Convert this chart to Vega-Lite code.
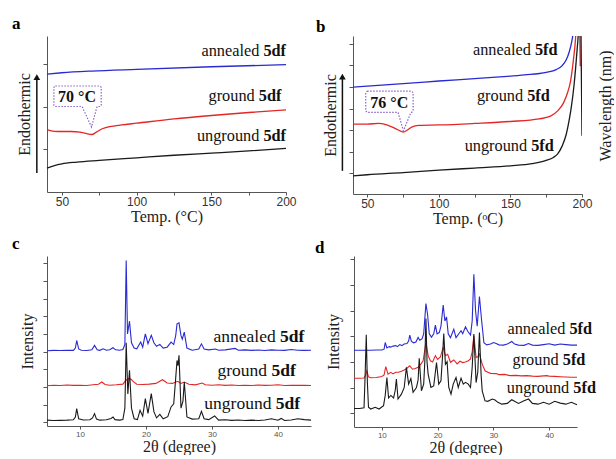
{
"$schema":"https://vega.github.io/schema/vega-lite/v6.json",
"background":"white",
"padding":{"left":12,"top":14,"right":0,"bottom":0},
"spacing":8,
"config":{"view":{"stroke":null},"axis":{"grid":false,"domainColor":"#555","tickColor":"#555","labelFont":"Liberation Sans","titleFont":"Liberation Serif","titleFontWeight":"normal","titleColor":"#222","labelFlush":false,"domainWidth":1,"tickWidth":1}},
"datasets":{
"dscA":[{"s":"A","x":40,"y":2.76},{"s":"A","x":50,"y":2.79},{"s":"A","x":70,"y":2.83},{"s":"A","x":100,"y":2.87},{"s":"A","x":150,"y":2.93},{"s":"A","x":200,"y":2.98},
{"s":"G","x":40,"y":1.46},{"s":"G","x":45,"y":1.42},{"s":"G","x":50,"y":1.415},{"s":"G","x":56,"y":1.415},{"s":"G","x":62,"y":1.4},{"s":"G","x":66,"y":1.37},{"s":"G","x":70,"y":1.345},{"s":"G","x":73,"y":1.4},{"s":"G","x":77,"y":1.48},{"s":"G","x":82,"y":1.53},{"s":"G","x":90,"y":1.57},{"s":"G","x":100,"y":1.61},{"s":"G","x":125,"y":1.71},{"s":"G","x":150,"y":1.79},{"s":"G","x":175,"y":1.86},{"s":"G","x":200,"y":1.92},
{"s":"U","x":40,"y":0.56},{"s":"U","x":45,"y":0.62},{"s":"U","x":50,"y":0.66},{"s":"U","x":60,"y":0.7},{"s":"U","x":75,"y":0.74},{"s":"U","x":100,"y":0.8},{"s":"U","x":125,"y":0.86},{"s":"U","x":150,"y":0.91},{"s":"U","x":175,"y":0.96},{"s":"U","x":200,"y":1.02}],
"dscB":[{"s":"A","x":40,"y":4.94},{"s":"A","x":60,"y":5.03},{"s":"A","x":80,"y":5.12},{"s":"A","x":100,"y":5.22},{"s":"A","x":120,"y":5.31},{"s":"A","x":140,"y":5.4},{"s":"A","x":160,"y":5.5},{"s":"A","x":175,"y":5.62},{"s":"A","x":182,"y":5.75},{"s":"A","x":186,"y":5.92},{"s":"A","x":189,"y":6.2},{"s":"A","x":191,"y":6.55},{"s":"A","x":193,"y":7.1},{"s":"A","x":194.5,"y":7.8},{"s":"A","x":196,"y":9.5},{"s":"A","x":197,"y":11},{"s":"A","x":198.5,"y":10},{"s":"A","x":199.5,"y":9},
{"s":"G","x":40,"y":3.23},{"s":"G","x":50,"y":3.23},{"s":"G","x":58,"y":3.26},{"s":"G","x":63,"y":3.2},{"s":"G","x":67,"y":3.1},{"s":"G","x":71,"y":2.98},{"s":"G","x":75.2,"y":2.86},{"s":"G","x":78,"y":2.96},{"s":"G","x":81,"y":3.09},{"s":"G","x":86,"y":3.17},{"s":"G","x":100,"y":3.19},{"s":"G","x":125,"y":3.26},{"s":"G","x":150,"y":3.35},{"s":"G","x":170,"y":3.47},{"s":"G","x":178,"y":3.6},{"s":"G","x":183,"y":3.84},{"s":"G","x":187,"y":4.2},{"s":"G","x":190,"y":4.7},{"s":"G","x":192,"y":5.22},{"s":"G","x":194,"y":6.2},{"s":"G","x":195.5,"y":7.2},{"s":"G","x":196.5,"y":8.5},{"s":"G","x":197.5,"y":10.5},{"s":"G","x":198.3,"y":8},{"s":"G","x":198.8,"y":5.9},
{"s":"U","x":40,"y":0.84},{"s":"U","x":50,"y":0.89},{"s":"U","x":75,"y":0.99},{"s":"U","x":100,"y":1.1},{"s":"U","x":125,"y":1.2},{"s":"U","x":150,"y":1.3},{"s":"U","x":165,"y":1.4},{"s":"U","x":175,"y":1.55},{"s":"U","x":180,"y":1.69},{"s":"U","x":183,"y":1.85},{"s":"U","x":186,"y":2.2},{"s":"U","x":189,"y":2.76},{"s":"U","x":191,"y":3.4},{"s":"U","x":192.5,"y":4.0},{"s":"U","x":194.5,"y":5.07},{"s":"U","x":196.5,"y":6.6},{"s":"U","x":197.5,"y":7.5},{"s":"U","x":198.8,"y":10},{"s":"U","x":199.5,"y":6},{"s":"U","x":200,"y":2.69}],
"xrdC":[{"s":"A","x":5,"y":4.05},{"s":"A","x":6,"y":4.07},{"s":"A","x":7,"y":4.06},{"s":"A","x":8,"y":4.08},{"s":"A","x":9,"y":4.07},{"s":"A","x":9.3,"y":4.2},{"s":"A","x":9.5,"y":4.63},{"s":"A","x":9.8,"y":4.15},{"s":"A","x":10.2,"y":4.08},{"s":"A","x":11,"y":4.06},{"s":"A","x":11.8,"y":4.1},{"s":"A","x":12.2,"y":4.35},{"s":"A","x":12.6,"y":4.1},{"s":"A","x":13,"y":4.07},{"s":"A","x":13.5,"y":4.16},{"s":"A","x":14,"y":4.08},{"s":"A","x":14.5,"y":4.1},{"s":"A","x":15,"y":4.22},{"s":"A","x":15.4,"y":4.1},{"s":"A","x":16,"y":4.08},{"s":"A","x":16.5,"y":4.12},{"s":"A","x":16.8,"y":4.4},{"s":"A","x":17,"y":9.15},{"s":"A","x":17.2,"y":5},{"s":"A","x":17.5,"y":5.72},{"s":"A","x":17.8,"y":4.5},{"s":"A","x":18.2,"y":4.2},{"s":"A","x":18.6,"y":4.16},{"s":"A","x":19.2,"y":4.54},{"s":"A","x":19.5,"y":4.25},{"s":"A","x":19.9,"y":5},{"s":"A","x":20.3,"y":4.45},{"s":"A","x":20.8,"y":4.92},{"s":"A","x":21.2,"y":4.5},{"s":"A","x":21.6,"y":4.3},{"s":"A","x":22.1,"y":4.41},{"s":"A","x":22.6,"y":4.2},{"s":"A","x":23.2,"y":4.25},{"s":"A","x":23.8,"y":4.54},{"s":"A","x":24.2,"y":4.4},{"s":"A","x":24.5,"y":4.9},{"s":"A","x":24.7,"y":5.57},{"s":"A","x":25,"y":5.63},{"s":"A","x":25.3,"y":4.9},{"s":"A","x":25.5,"y":4.7},{"s":"A","x":25.8,"y":5.1},{"s":"A","x":26.2,"y":4.2},{"s":"A","x":27,"y":4.08},{"s":"A","x":28,"y":4.15},{"s":"A","x":28.4,"y":4.44},{"s":"A","x":28.8,"y":4.15},{"s":"A","x":29.5,"y":4.1},{"s":"A","x":30.5,"y":4.15},{"s":"A","x":31,"y":4.08},{"s":"A","x":32,"y":4.1},{"s":"A","x":33.5,"y":4.18},{"s":"A","x":34,"y":4.08},{"s":"A","x":35,"y":4.1},{"s":"A","x":36,"y":4.07},{"s":"A","x":37,"y":4.09},{"s":"A","x":38,"y":4.06},{"s":"A","x":39,"y":4.1},{"s":"A","x":40,"y":4.08},{"s":"A","x":41,"y":4.07},{"s":"A","x":42,"y":4.12},{"s":"A","x":43,"y":4.08},{"s":"A","x":44,"y":4.07},{"s":"A","x":45,"y":4.08},
{"s":"G","x":5,"y":2.07},{"s":"G","x":6,"y":2.1},{"s":"G","x":7,"y":2.08},{"s":"G","x":8,"y":2.11},{"s":"G","x":9,"y":2.09},{"s":"G","x":10,"y":2.1},{"s":"G","x":11,"y":2.08},{"s":"G","x":12,"y":2.12},{"s":"G","x":12.8,"y":2.15},{"s":"G","x":13.3,"y":2.28},{"s":"G","x":13.8,"y":2.14},{"s":"G","x":14.5,"y":2.1},{"s":"G","x":15.5,"y":2.12},{"s":"G","x":16.5,"y":2.16},{"s":"G","x":16.9,"y":2.35},{"s":"G","x":17.3,"y":2.47},{"s":"G","x":17.7,"y":2.45},{"s":"G","x":18.1,"y":2.3},{"s":"G","x":18.6,"y":2.15},{"s":"G","x":19.5,"y":2.14},{"s":"G","x":20.5,"y":2.16},{"s":"G","x":21.5,"y":2.2},{"s":"G","x":22.5,"y":2.41},{"s":"G","x":23.2,"y":2.22},{"s":"G","x":24,"y":2.2},{"s":"G","x":24.8,"y":2.32},{"s":"G","x":25.3,"y":2.2},{"s":"G","x":25.8,"y":2.28},{"s":"G","x":26.5,"y":2.15},{"s":"G","x":27.5,"y":2.12},{"s":"G","x":28.5,"y":2.22},{"s":"G","x":29,"y":2.12},{"s":"G","x":30,"y":2.1},{"s":"G","x":31,"y":2.12},{"s":"G","x":32,"y":2.09},{"s":"G","x":33,"y":2.11},{"s":"G","x":34,"y":2.08},{"s":"G","x":35,"y":2.1},{"s":"G","x":36,"y":2.08},{"s":"G","x":37,"y":2.11},{"s":"G","x":38,"y":2.09},{"s":"G","x":39,"y":2.1},{"s":"G","x":40,"y":2.12},{"s":"G","x":41,"y":2.08},{"s":"G","x":42,"y":2.1},{"s":"G","x":43,"y":2.09},{"s":"G","x":44,"y":2.1},{"s":"G","x":45,"y":2.08},
{"s":"U","x":5,"y":0.12},{"s":"U","x":6,"y":0.1},{"s":"U","x":7,"y":0.11},{"s":"U","x":8,"y":0.12},{"s":"U","x":9,"y":0.14},{"s":"U","x":9.3,"y":0.3},{"s":"U","x":9.5,"y":0.77},{"s":"U","x":9.8,"y":0.2},{"s":"U","x":10.5,"y":0.13},{"s":"U","x":11.5,"y":0.14},{"s":"U","x":11.9,"y":0.25},{"s":"U","x":12.2,"y":0.49},{"s":"U","x":12.5,"y":0.18},{"s":"U","x":13,"y":0.12},{"s":"U","x":14,"y":0.14},{"s":"U","x":14.7,"y":0.22},{"s":"U","x":15,"y":0.3},{"s":"U","x":15.3,"y":0.15},{"s":"U","x":16,"y":0.12},{"s":"U","x":16.5,"y":0.15},{"s":"U","x":16.8,"y":0.8},{"s":"U","x":17,"y":4.5},{"s":"U","x":17.25,"y":1.6},{"s":"U","x":17.5,"y":2.94},{"s":"U","x":17.8,"y":0.8},{"s":"U","x":18.2,"y":0.2},{"s":"U","x":18.7,"y":0.15},{"s":"U","x":19.1,"y":0.68},{"s":"U","x":19.5,"y":0.35},{"s":"U","x":19.9,"y":1.34},{"s":"U","x":20.3,"y":0.5},{"s":"U","x":20.8,"y":1.62},{"s":"U","x":21.2,"y":0.6},{"s":"U","x":21.6,"y":0.25},{"s":"U","x":22.1,"y":0.45},{"s":"U","x":22.6,"y":0.2},{"s":"U","x":23.3,"y":0.32},{"s":"U","x":23.8,"y":0.87},{"s":"U","x":24.2,"y":1.05},{"s":"U","x":24.5,"y":2.5},{"s":"U","x":24.7,"y":3.5},{"s":"U","x":24.85,"y":3.2},{"s":"U","x":25,"y":3.79},{"s":"U","x":25.3,"y":0.8},{"s":"U","x":25.6,"y":1.2},{"s":"U","x":25.8,"y":2.28},{"s":"U","x":26.2,"y":0.3},{"s":"U","x":27,"y":0.18},{"s":"U","x":28,"y":0.2},{"s":"U","x":28.4,"y":0.62},{"s":"U","x":28.8,"y":0.2},{"s":"U","x":29.5,"y":0.15},{"s":"U","x":30.4,"y":0.36},{"s":"U","x":31,"y":0.12},{"s":"U","x":32,"y":0.14},{"s":"U","x":33,"y":0.11},{"s":"U","x":34,"y":0.13},{"s":"U","x":35,"y":0.1},{"s":"U","x":36,"y":0.12},{"s":"U","x":37,"y":0.1},{"s":"U","x":38,"y":0.13},{"s":"U","x":39,"y":0.2},{"s":"U","x":40,"y":0.12},{"s":"U","x":40.5,"y":0.22},{"s":"U","x":41,"y":0.1},{"s":"U","x":42,"y":0.13},{"s":"U","x":43,"y":0.2},{"s":"U","x":44,"y":0.15},{"s":"U","x":45,"y":0.12}],
"xrdD":[{"s":"A","x":5,"y":2.46},{"s":"A","x":6,"y":2.46},{"s":"A","x":7,"y":2.46},{"s":"A","x":8,"y":2.46},{"s":"A","x":9,"y":2.47},{"s":"A","x":10,"y":2.47},{"s":"A","x":10.4,"y":2.5},{"s":"A","x":10.6,"y":2.76},{"s":"A","x":10.9,"y":2.55},{"s":"A","x":11.3,"y":2.6},{"s":"A","x":11.6,"y":2.58},{"s":"A","x":12,"y":2.62},{"s":"A","x":12.5,"y":2.64},{"s":"A","x":12.8,"y":2.6},{"s":"A","x":13.2,"y":2.68},{"s":"A","x":13.6,"y":2.64},{"s":"A","x":14,"y":2.7},{"s":"A","x":14.5,"y":2.72},{"s":"A","x":14.8,"y":2.82},{"s":"A","x":15,"y":3.05},{"s":"A","x":15.3,"y":2.8},{"s":"A","x":15.7,"y":2.75},{"s":"A","x":16.1,"y":2.78},{"s":"A","x":16.5,"y":2.96},{"s":"A","x":16.8,"y":2.85},{"s":"A","x":17.2,"y":2.9},{"s":"A","x":17.5,"y":3.1},{"s":"A","x":17.9,"y":4.28},{"s":"A","x":18.2,"y":3.85},{"s":"A","x":18.5,"y":3.1},{"s":"A","x":18.9,"y":2.97},{"s":"A","x":19.3,"y":3.1},{"s":"A","x":19.6,"y":3.44},{"s":"A","x":19.9,"y":3.1},{"s":"A","x":20.3,"y":3.15},{"s":"A","x":20.6,"y":3.4},{"s":"A","x":21,"y":4.22},{"s":"A","x":21.3,"y":3.6},{"s":"A","x":21.6,"y":3.76},{"s":"A","x":21.9,"y":3.1},{"s":"A","x":22.3,"y":2.95},{"s":"A","x":22.9,"y":3.28},{"s":"A","x":23.3,"y":2.95},{"s":"A","x":23.8,"y":3.1},{"s":"A","x":24.2,"y":3.22},{"s":"A","x":24.5,"y":3.1},{"s":"A","x":25,"y":3.37},{"s":"A","x":25.4,"y":3.2},{"s":"A","x":25.9,"y":3.05},{"s":"A","x":26.2,"y":3.6},{"s":"A","x":26.5,"y":5.42},{"s":"A","x":26.8,"y":4},{"s":"A","x":27.1,"y":3.4},{"s":"A","x":27.5,"y":4.55},{"s":"A","x":27.9,"y":3.6},{"s":"A","x":28.3,"y":2.75},{"s":"A","x":28.8,"y":2.67},{"s":"A","x":29.5,"y":2.7},{"s":"A","x":30,"y":2.76},{"s":"A","x":30.5,"y":2.72},{"s":"A","x":31,"y":2.67},{"s":"A","x":31.8,"y":2.66},{"s":"A","x":32.5,"y":2.7},{"s":"A","x":33.3,"y":2.8},{"s":"A","x":33.8,"y":2.7},{"s":"A","x":34.5,"y":2.66},{"s":"A","x":35.5,"y":2.65},{"s":"A","x":36.3,"y":2.72},{"s":"A","x":37,"y":2.66},{"s":"A","x":38,"y":2.65},{"s":"A","x":39,"y":2.68},{"s":"A","x":40,"y":2.71},{"s":"A","x":41,"y":2.66},{"s":"A","x":42,"y":2.7},{"s":"A","x":43,"y":2.68},{"s":"A","x":44,"y":2.66},{"s":"A","x":45,"y":2.66},
{"s":"G","x":5,"y":1.37},{"s":"G","x":6,"y":1.37},{"s":"G","x":6.8,"y":1.38},{"s":"G","x":7.1,"y":1.5},{"s":"G","x":7.3,"y":1.66},{"s":"G","x":7.6,"y":1.42},{"s":"G","x":8,"y":1.39},{"s":"G","x":9,"y":1.4},{"s":"G","x":10,"y":1.44},{"s":"G","x":10.4,"y":1.5},{"s":"G","x":10.7,"y":1.82},{"s":"G","x":11.1,"y":1.53},{"s":"G","x":11.6,"y":1.6},{"s":"G","x":12,"y":1.54},{"s":"G","x":12.5,"y":1.6},{"s":"G","x":13,"y":1.6},{"s":"G","x":13.5,"y":1.64},{"s":"G","x":14,"y":1.69},{"s":"G","x":14.5,"y":1.76},{"s":"G","x":15,"y":1.85},{"s":"G","x":15.5,"y":1.72},{"s":"G","x":16,"y":1.75},{"s":"G","x":16.5,"y":1.8},{"s":"G","x":17,"y":1.92},{"s":"G","x":17.4,"y":2.05},{"s":"G","x":17.9,"y":2.76},{"s":"G","x":18.3,"y":2.25},{"s":"G","x":18.7,"y":2.05},{"s":"G","x":19.1,"y":2},{"s":"G","x":19.6,"y":2.25},{"s":"G","x":20,"y":2.1},{"s":"G","x":20.5,"y":2.2},{"s":"G","x":21,"y":2.57},{"s":"G","x":21.4,"y":2.25},{"s":"G","x":21.8,"y":2.3},{"s":"G","x":22.3,"y":1.99},{"s":"G","x":22.9,"y":2.08},{"s":"G","x":23.5,"y":1.93},{"s":"G","x":24,"y":2.03},{"s":"G","x":24.5,"y":1.98},{"s":"G","x":25,"y":2},{"s":"G","x":25.5,"y":2.05},{"s":"G","x":25.9,"y":2.12},{"s":"G","x":26.2,"y":2.4},{"s":"G","x":26.5,"y":3.02},{"s":"G","x":26.9,"y":2.18},{"s":"G","x":27.2,"y":2.2},{"s":"G","x":27.5,"y":2.31},{"s":"G","x":28,"y":1.92},{"s":"G","x":28.5,"y":1.66},{"s":"G","x":29,"y":1.6},{"s":"G","x":29.5,"y":1.56},{"s":"G","x":30.5,"y":1.55},{"s":"G","x":31,"y":1.51},{"s":"G","x":32,"y":1.52},{"s":"G","x":33,"y":1.47},{"s":"G","x":34,"y":1.48},{"s":"G","x":35,"y":1.46},{"s":"G","x":36,"y":1.47},{"s":"G","x":37,"y":1.45},{"s":"G","x":38,"y":1.44},{"s":"G","x":39.5,"y":1.47},{"s":"G","x":40,"y":1.45},{"s":"G","x":41,"y":1.44},{"s":"G","x":42,"y":1.43},{"s":"G","x":43,"y":1.42},{"s":"G","x":44,"y":1.41},{"s":"G","x":45,"y":1.41},
{"s":"U","x":5,"y":0.19},{"s":"U","x":6,"y":0.19},{"s":"U","x":6.8,"y":0.22},{"s":"U","x":7,"y":1.5},{"s":"U","x":7.2,"y":3.06},{"s":"U","x":7.4,"y":1.2},{"s":"U","x":7.6,"y":0.24},{"s":"U","x":8,"y":0.17},{"s":"U","x":8.8,"y":0.24},{"s":"U","x":9.5,"y":0.17},{"s":"U","x":10.3,"y":0.3},{"s":"U","x":10.6,"y":0.7},{"s":"U","x":10.9,"y":1.4},{"s":"U","x":11.2,"y":0.6},{"s":"U","x":11.6,"y":0.7},{"s":"U","x":12.1,"y":0.6},{"s":"U","x":12.4,"y":0.9},{"s":"U","x":12.6,"y":1.34},{"s":"U","x":12.9,"y":0.56},{"s":"U","x":13.5,"y":0.75},{"s":"U","x":14,"y":1},{"s":"U","x":14.4,"y":1.79},{"s":"U","x":14.8,"y":1.14},{"s":"U","x":15.2,"y":1.36},{"s":"U","x":15.6,"y":0.82},{"s":"U","x":16.2,"y":1.01},{"s":"U","x":16.5,"y":1.3},{"s":"U","x":16.7,"y":2.15},{"s":"U","x":17.1,"y":0.88},{"s":"U","x":17.5,"y":1.14},{"s":"U","x":17.7,"y":2},{"s":"U","x":17.9,"y":3.7},{"s":"U","x":18.1,"y":2},{"s":"U","x":18.3,"y":1.53},{"s":"U","x":18.8,"y":1.01},{"s":"U","x":19.3,"y":1.07},{"s":"U","x":19.8,"y":1.98},{"s":"U","x":20.2,"y":1.14},{"s":"U","x":20.6,"y":1.27},{"s":"U","x":20.9,"y":2.3},{"s":"U","x":21.1,"y":3.11},{"s":"U","x":21.4,"y":1.91},{"s":"U","x":21.7,"y":2.01},{"s":"U","x":22,"y":1.01},{"s":"U","x":22.4,"y":0.75},{"s":"U","x":22.8,"y":1.14},{"s":"U","x":23.3,"y":1.4},{"s":"U","x":23.7,"y":1.01},{"s":"U","x":24.2,"y":1.37},{"s":"U","x":24.6,"y":1.14},{"s":"U","x":25,"y":1.21},{"s":"U","x":25.5,"y":1.14},{"s":"U","x":25.9,"y":1.01},{"s":"U","x":26.2,"y":1.8},{"s":"U","x":26.5,"y":3.09},{"s":"U","x":26.9,"y":1.2},{"s":"U","x":27.2,"y":1.6},{"s":"U","x":27.5,"y":3.15},{"s":"U","x":27.8,"y":1.5},{"s":"U","x":28,"y":0.88},{"s":"U","x":28.5,"y":0.49},{"s":"U","x":29,"y":0.47},{"s":"U","x":29.8,"y":0.56},{"s":"U","x":30.3,"y":0.52},{"s":"U","x":30.8,"y":0.43},{"s":"U","x":31.5,"y":0.36},{"s":"U","x":32.5,"y":0.39},{"s":"U","x":33.3,"y":0.53},{"s":"U","x":33.8,"y":0.47},{"s":"U","x":34.5,"y":0.39},{"s":"U","x":35.5,"y":0.49},{"s":"U","x":36.3,"y":0.56},{"s":"U","x":37,"y":0.39},{"s":"U","x":38,"y":0.36},{"s":"U","x":39,"y":0.43},{"s":"U","x":40,"y":0.36},{"s":"U","x":41,"y":0.47},{"s":"U","x":42,"y":0.4},{"s":"U","x":43,"y":0.36},{"s":"U","x":44,"y":0.43},{"s":"U","x":45,"y":0.34}],
"boxA":[{"i":0,"x":45.6,"y":2.48},{"i":1,"x":75.3,"y":2.48},{"i":2,"x":76.3,"y":2.45},{"i":3,"x":76.3,"y":2.03},{"i":4,"x":75.3,"y":2.0},{"i":5,"x":73.5,"y":2.0},{"i":6,"x":69.8,"y":1.52},{"i":7,"x":63.5,"y":2.0},{"i":8,"x":45.6,"y":2.0},{"i":9,"x":44.6,"y":2.03},{"i":10,"x":44.6,"y":2.45},{"i":11,"x":45.6,"y":2.48}],
"boxB":[{"i":0,"x":49.9,"y":4.75},{"i":1,"x":81,"y":4.75},{"i":2,"x":82,"y":4.68},{"i":3,"x":82,"y":3.84},{"i":4,"x":81,"y":3.77},{"i":5,"x":80.5,"y":3.77},{"i":6,"x":75.2,"y":2.92},{"i":7,"x":71.5,"y":3.77},{"i":8,"x":49.9,"y":3.77},{"i":9,"x":48.9,"y":3.84},{"i":10,"x":48.9,"y":4.68},{"i":11,"x":49.9,"y":4.75}],
"labA":[{"x":200,"y":3.19,"pre":"annealed","b":"5df"},{"x":196.9,"y":2.12,"pre":"ground","b":"5df"},{"x":200,"y":1.2,"pre":"unground","b":"5df"}],
"labB":[{"x":182.9,"y":6.42,"pre":"annealed","b":"5fd"},{"x":177.5,"y":4.3,"pre":"ground","b":"5fd"},{"x":180.3,"y":1.99,"pre":"unground","b":"5fd"}],
"labC":[{"x":44,"y":4.54,"pre":"annealed","b":"5df"},{"x":42.7,"y":2.6,"pre":"ground","b":"5df"},{"x":43.35,"y":0.77,"pre":"unground","b":"5df"}],
"labD":[{"x":47.7,"y":3.11,"pre":"annealed","b":"5fd"},{"x":46.5,"y":1.89,"pre":"ground","b":"5fd"},{"x":48.4,"y":0.79,"pre":"unground","b":"5fd"}]
},
"vconcat":[
{"hconcat":[
{"width":239,"height":156,
"title":{"text":"a","anchor":"start","frame":"group","dx":-35,"offset":-9.5,"baseline":"alphabetic","font":"Liberation Serif","fontSize":17,"fontWeight":"bold","color":"#000"},
"encoding":{
"x":{"field":"x","type":"quantitative","scale":{"domain":[40,200],"nice":false,"zero":false},"axis":{"title":"Temp. (°C)","values":[50,75,100,125,150,175,200],"labelExpr":"datum.value % 50 == 0 ? datum.label : ''","tickSize":3,"labelPadding":1,"labelFontSize":12,"labelColor":"#333","titleFontSize":16,"titlePadding":1}},
"y":{"field":"y","type":"quantitative","scale":{"domain":[0,3.65],"nice":false,"zero":false},"axis":{"title":"Endothermic","values":[1,2,3],"labels":false,"tickSize":4,"titleFontSize":16,"titlePadding":10}}},
"layer":[
{"data":{"name":"dscA"},"mark":{"type":"line","interpolate":"monotone","strokeWidth":1.3},"encoding":{"color":{"field":"s","type":"nominal","scale":{"domain":["A","G","U"],"range":["#2a2ad4","#e32626","#1a1a1a"]},"legend":null}}},
{"data":{"name":"boxA"},"mark":{"type":"line","stroke":"#8a63c8","strokeWidth":1.2,"strokeDash":[1.5,1.5]},"encoding":{"order":{"field":"i","type":"quantitative"}}},
{"data":{"values":[{"x":60.1,"y":2.1,"t":"70 °C"}]},"mark":{"type":"text","font":"Liberation Serif","fontSize":16,"fontWeight":"bold","align":"center","baseline":"alphabetic","color":"#111"},"encoding":{"text":{"field":"t"}}},
{"data":{"values":[{"x":33.2,"y":0.445,"y2":2.62}]},"mark":{"type":"rule","strokeWidth":1.5,"color":"#111"},"encoding":{"y2":{"field":"y2"}}},
{"data":{"values":[{"x":33.2,"y":2.69}]},"mark":{"type":"point","shape":"triangle-up","filled":true,"size":45,"color":"#111","opacity":1}},
{"data":{"name":"labA"},"mark":{"type":"text","font":"Liberation Serif","fontSize":16.3,"align":"right","baseline":"alphabetic","dx":-26.7,"color":"#111"},"encoding":{"text":{"field":"pre"}}},
{"data":{"name":"labA"},"mark":{"type":"text","font":"Liberation Serif","fontSize":16.3,"fontWeight":"bold","align":"right","baseline":"alphabetic","color":"#111"},"encoding":{"text":{"field":"b"}}}
]},
{"width":229,"height":158,
"title":{"text":"b","anchor":"start","frame":"group","dx":-37,"offset":-12.5,"baseline":"alphabetic","font":"Liberation Serif","fontSize":17,"fontWeight":"bold","color":"#000"},
"encoding":{
"x":{"field":"x","type":"quantitative","scale":{"domain":[40,200],"nice":false,"zero":false},"axis":{"title":"Temp. (ᵒC)","values":[50,75,100,125,150,175,200],"labelExpr":"datum.value % 50 == 0 ? datum.label : ''","tickSize":3,"labelPadding":1,"labelFontSize":12,"labelColor":"#333","titleFontSize":16,"titlePadding":1}},
"y":{"field":"y","type":"quantitative","scale":{"domain":[0,7.3],"nice":false,"zero":false},"axis":{"title":"Endothermic","values":[0.95,1.95,2.95,3.95,4.95,5.95,6.95],"labels":false,"tickSize":4,"titleFontSize":16,"titlePadding":10}}},
"layer":[
{"data":{"name":"dscB"},"mark":{"type":"line","interpolate":"monotone","strokeWidth":1.3,"clip":true},"encoding":{"color":{"field":"s","type":"nominal","scale":{"domain":["A","G","U"],"range":["#2a2ad4","#e32626","#1a1a1a"]},"legend":null}}},
{"data":{"name":"boxB"},"mark":{"type":"line","stroke":"#8a63c8","strokeWidth":1.2,"strokeDash":[1.5,1.5]},"encoding":{"order":{"field":"i","type":"quantitative"}}},
{"data":{"values":[{"x":65.3,"y":3.99,"t":"76 °C"}]},"mark":{"type":"text","font":"Liberation Serif","fontSize":16,"fontWeight":"bold","align":"center","baseline":"alphabetic","color":"#111"},"encoding":{"text":{"field":"t"}}},
{"data":{"values":[{"x":32.6,"y":1.07,"y2":5.35}]},"mark":{"type":"rule","strokeWidth":1.5,"color":"#111"},"encoding":{"y2":{"field":"y2"}}},
{"data":{"values":[{"x":32.6,"y":5.42}]},"mark":{"type":"point","shape":"triangle-up","filled":true,"size":45,"color":"#111","opacity":1}},
{"data":{"values":[{"x":216.7,"y":4.07,"t":"Wavelength (nm)"}]},"mark":{"type":"text","font":"Liberation Serif","fontSize":16,"angle":270,"align":"center","baseline":"middle","color":"#222"},"encoding":{"text":{"field":"t"}}},
{"data":{"name":"labB"},"mark":{"type":"text","font":"Liberation Serif","fontSize":16.3,"align":"right","baseline":"alphabetic","dx":-26.7,"color":"#111"},"encoding":{"text":{"field":"pre"}}},
{"data":{"name":"labB"},"mark":{"type":"text","font":"Liberation Serif","fontSize":16.3,"fontWeight":"bold","align":"right","baseline":"alphabetic","color":"#111"},"encoding":{"text":{"field":"b"}}}
]}
],"spacing":19},
{"hconcat":[
{"width":264,"height":170,
"title":{"text":"c","anchor":"start","frame":"group","dx":-35,"offset":-9.5,"baseline":"alphabetic","font":"Liberation Serif","fontSize":17,"fontWeight":"bold","color":"#000"},
"encoding":{
"x":{"field":"x","type":"quantitative","scale":{"domain":[5,45],"nice":false,"zero":false},"axis":{"title":"2θ (degree)","values":[10,20,30,40],"tickSize":3,"labelPadding":1,"labelFontSize":8,"labelColor":"#555","titleFontSize":16,"titlePadding":0}},
"y":{"field":"y","type":"quantitative","scale":{"domain":[-0.21,9.41],"nice":false,"zero":false},"axis":{"title":"Intensity","values":[0,1,2,3,4,5,6,7,8,9],"labels":false,"tickSize":4,"titleFontSize":16,"titlePadding":7}}},
"layer":[
{"data":{"name":"xrdC"},"mark":{"type":"line","strokeWidth":1.1},"encoding":{"color":{"field":"s","type":"nominal","scale":{"domain":["A","G","U"],"range":["#2a2ad4","#e32626","#1a1a1a"]},"legend":null}}},
{"data":{"name":"labC"},"mark":{"type":"text","font":"Liberation Serif","fontSize":17.5,"align":"right","baseline":"alphabetic","dx":-28.7,"color":"#111"},"encoding":{"text":{"field":"pre"}}},
{"data":{"name":"labC"},"mark":{"type":"text","font":"Liberation Serif","fontSize":17.5,"fontWeight":"bold","align":"right","baseline":"alphabetic","color":"#111"},"encoding":{"text":{"field":"b"}}}
]},
{"width":223,"height":171,
"title":{"text":"d","anchor":"start","frame":"group","dx":-39,"offset":-13.8,"baseline":"alphabetic","font":"Liberation Serif","fontSize":17,"fontWeight":"bold","color":"#000"},
"encoding":{
"x":{"field":"x","type":"quantitative","scale":{"domain":[5,45],"nice":false,"zero":false},"axis":{"title":"2θ (degree)","values":[10,20,30,40],"tickSize":3,"labelPadding":1,"labelFontSize":8,"labelColor":"#555","titleFontSize":16,"titlePadding":0}},
"y":{"field":"y","type":"quantitative","scale":{"domain":[-0.53,6.13],"nice":false,"zero":false},"axis":{"title":"Intensity","values":[0,1,2,3,4,5,6],"labels":false,"tickSize":4,"titleFontSize":16,"titlePadding":8}}},
"layer":[
{"data":{"name":"xrdD"},"mark":{"type":"line","strokeWidth":1.1},"encoding":{"color":{"field":"s","type":"nominal","scale":{"domain":["A","G","U"],"range":["#2a2ad4","#e32626","#1a1a1a"]},"legend":null}}},
{"data":{"name":"labD"},"mark":{"type":"text","font":"Liberation Serif","fontSize":16.3,"align":"right","baseline":"alphabetic","dx":-26.7,"color":"#111"},"encoding":{"text":{"field":"pre"}}},
{"data":{"name":"labD"},"mark":{"type":"text","font":"Liberation Serif","fontSize":16.3,"fontWeight":"bold","align":"right","baseline":"alphabetic","color":"#111"},"encoding":{"text":{"field":"b"}}}
]}
],"spacing":1}
]
}
